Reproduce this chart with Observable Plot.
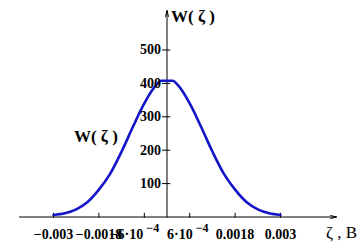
<!DOCTYPE html>
<html>
<head>
<meta charset="utf-8">
<script src="https://cdn.jsdelivr.net/npm/d3@7"></script>
<script src="https://cdn.jsdelivr.net/npm/@observablehq/plot@0.6"></script>
<style>
  html, body { margin: 0; padding: 0; background: #fff; }
</style>
</head>
<body>
<div id="chart"></div>
<script>
// Data
const zeta = [-0.003, -0.0027, -0.0024, -0.0021, -0.0018, -0.0015, -0.0012, -0.0009, -0.0006, -0.0003, -0.00015,
              0.00015, 0.0003, 0.0006, 0.0009, 0.0012, 0.0015, 0.0018, 0.0021, 0.0024, 0.0027, 0.003];
const W = [6, 11, 23, 45, 82, 130, 196, 270, 340, 393, 408,
           408, 393, 340, 270, 196, 130, 82, 45, 23, 11, 6];

const xTicks = [-0.003, -0.0018, -0.0006, 0.0006, 0.0018, 0.003];
const xTickText = ["\u22120.003", "\u22120.0018", "\u22126\u00b710", "6\u00b710", "0.0018", "0.003"];
const xTickSup = ["", "", "\u22124", "\u22124", "", ""];
const yTicks = [100, 200, 300, 400, 500];
const yTickText = ["100", "200", "300", "400", "500"];

const xAxisExtent = [-0.0039, 0.00448];
const yAxisExtent = [0, 618];

const data = zeta.map((z, i) => ({z, w: W[i]}));
const xt = xTicks.map((v, i) => ({v, t: xTickText[i], s: xTickSup[i]}));
const yt = yTicks.map((v, i) => ({v, t: yTickText[i]}));

const serif = "Liberation Serif, Times New Roman, serif";
const fs = 14;

const chart = Plot.plot({
  width: 362,
  height: 244,
  marginLeft: 53,
  marginRight: 82,
  marginTop: 49.5,
  marginBottom: 27.5,
  x: {domain: [-0.003, 0.003], axis: null},
  y: {domain: [0, 500], axis: null},
  style: {background: "#fff"},
  marks: [
    // axes
    Plot.arrow([0], {x1: xAxisExtent[0], x2: xAxisExtent[1], y1: 0, y2: 0, stroke: "#000", strokeWidth: 1, headLength: 9, headAngle: 28}),
    Plot.arrow([0], {x1: 0, x2: 0, y1: yAxisExtent[0], y2: yAxisExtent[1], stroke: "#000", strokeWidth: 1, headLength: 9, headAngle: 28}),
    // ticks
    Plot.ruleX(xt, {x: "v", y1: -4, y2: 11, stroke: "#000", strokeWidth: 1}),
    Plot.ruleY(yt, {y: "v", x1: -0.00012, x2: 0.0001, stroke: "#000", strokeWidth: 1}),
    // curve
    Plot.line(data, {x: "z", y: "w", stroke: "#1414c8", strokeWidth: 2.6, curve: "monotone-x"}),
    // tick labels
    Plot.text(yt, {x: 0, y: "v", text: "t", textAnchor: "end", dx: -6, fontFamily: serif, fontWeight: "bold", fontSize: fs, fill: "#000"}),
    Plot.text(xt.filter(d => d.s === ""), {x: "v", y: 0, text: "t", dy: 18, fontFamily: serif, fontWeight: "bold", fontSize: fs, fill: "#000"}),
    Plot.text(xt.filter(d => d.s !== "" && d.v < 0), {x: "v", y: 0, text: "t", textAnchor: "end", dx: -1, dy: 18, fontFamily: serif, fontWeight: "bold", fontSize: fs, fill: "#000"}),
    Plot.text(xt.filter(d => d.s !== "" && d.v < 0), {x: "v", y: 0, text: "s", textAnchor: "start", dx: 2, dy: 11, fontFamily: serif, fontWeight: "bold", fontSize: 12, fill: "#000"}),
    Plot.text(xt.filter(d => d.s !== "" && d.v > 0), {x: "v", y: 0, text: "t", textAnchor: "end", dx: 3, dy: 18, fontFamily: serif, fontWeight: "bold", fontSize: fs, fill: "#000"}),
    Plot.text(xt.filter(d => d.s !== "" && d.v > 0), {x: "v", y: 0, text: "s", textAnchor: "start", dx: 6, dy: 11, fontFamily: serif, fontWeight: "bold", fontSize: 12, fill: "#000"}),
    // annotations
    Plot.text(["W( \u03b6 )"], {x: 0, y: yAxisExtent[1], text: d => d, textAnchor: "start", dx: 4, dy: 6, fontFamily: serif, fontWeight: "bold", fontSize: 17, fill: "#000"}),
    Plot.text(["W( \u03b6 )"], {x: -0.0013, y: 240, text: d => d, textAnchor: "end", fontFamily: serif, fontWeight: "bold", fontSize: 17, fill: "#000"}),
    Plot.text(["\u03b6 , B"], {x: 0.0042, y: 0, text: d => d, textAnchor: "start", dy: 16, fontFamily: serif, fontSize: 17, fill: "#000"})
  ]
});
document.getElementById("chart").appendChild(chart);
</script>
</body>
</html>
